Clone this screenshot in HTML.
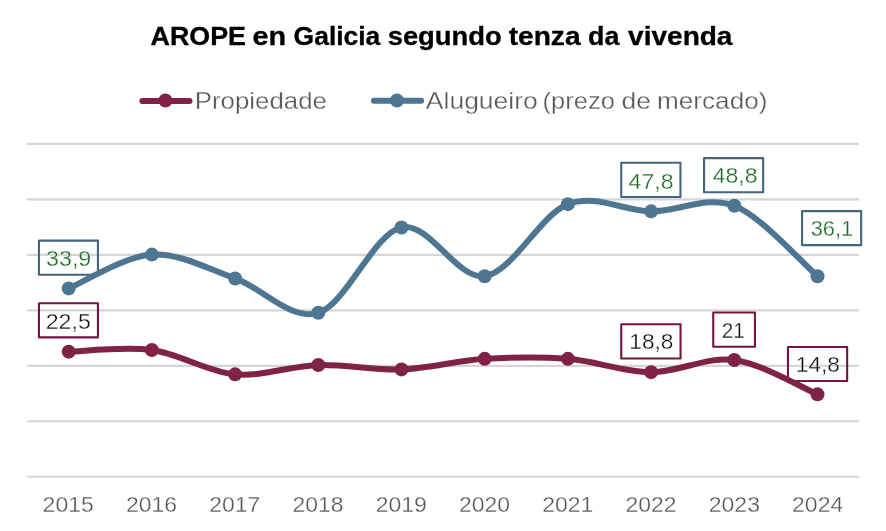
<!DOCTYPE html>
<html><head><meta charset="utf-8"><style>
html,body{margin:0;padding:0;background:#fff;}
body{width:886px;height:531px;overflow:hidden;}
svg{display:block;font-family:"Liberation Sans",sans-serif;will-change:transform;}
</style></head><body>
<svg width="886" height="531" viewBox="0 0 886 531">
<rect width="886" height="531" fill="#fff"/>
<line x1="27" y1="476.75" x2="859" y2="476.75" stroke="#d6d6d6" stroke-width="2.2"/>
<line x1="27" y1="421.27" x2="859" y2="421.27" stroke="#d6d6d6" stroke-width="2.2"/>
<line x1="27" y1="365.80" x2="859" y2="365.80" stroke="#d6d6d6" stroke-width="2.2"/>
<line x1="27" y1="310.32" x2="859" y2="310.32" stroke="#d6d6d6" stroke-width="2.2"/>
<line x1="27" y1="254.85" x2="859" y2="254.85" stroke="#d6d6d6" stroke-width="2.2"/>
<line x1="27" y1="199.38" x2="859" y2="199.38" stroke="#d6d6d6" stroke-width="2.2"/>
<line x1="27" y1="143.90" x2="859" y2="143.90" stroke="#d6d6d6" stroke-width="2.2"/>
<rect x="787.95" y="346.95" width="59.20" height="34.10" fill="none" stroke="#75153f" stroke-width="2.1" stroke-linejoin="round"/>
<rect x="713.25" y="312.55" width="41.70" height="34.20" fill="none" stroke="#75153f" stroke-width="2.1" stroke-linejoin="round"/>
<rect x="621.25" y="324.25" width="59.30" height="34.30" fill="none" stroke="#75153f" stroke-width="2.1" stroke-linejoin="round"/>
<rect x="38.95" y="303.25" width="59.00" height="34.10" fill="none" stroke="#75153f" stroke-width="2.1" stroke-linejoin="round"/>
<rect x="802.05" y="211.15" width="59.10" height="34.00" fill="none" stroke="#42667f" stroke-width="2.1" stroke-linejoin="round"/>
<rect x="704.05" y="158.15" width="59.10" height="34.10" fill="none" stroke="#42667f" stroke-width="2.1" stroke-linejoin="round"/>
<rect x="621.25" y="162.75" width="59.20" height="34.20" fill="none" stroke="#42667f" stroke-width="2.1" stroke-linejoin="round"/>
<rect x="38.95" y="240.65" width="59.00" height="34.10" fill="none" stroke="#42667f" stroke-width="2.1" stroke-linejoin="round"/>
<path d="M68.70,288.42 C82.57,282.79 124.17,256.26 151.90,254.60 C179.63,252.94 207.37,268.74 235.10,278.44 C262.83,288.15 290.57,321.32 318.30,312.82 C346.03,304.32 373.77,233.53 401.50,227.43 C429.23,221.33 456.97,280.11 484.70,276.23 C512.43,272.34 540.17,214.95 567.90,204.14 C595.63,193.33 623.37,211.07 651.10,211.35 C678.83,211.63 706.57,194.99 734.30,205.80 C762.03,216.62 803.63,264.49 817.50,276.23" fill="none" stroke="#4e7591" stroke-width="6" stroke-linecap="round" stroke-linejoin="round"/>
<circle cx="68.70" cy="288.42" r="7.0" fill="#4e7591"/>
<circle cx="151.90" cy="254.60" r="7.0" fill="#4e7591"/>
<circle cx="235.10" cy="278.44" r="7.0" fill="#4e7591"/>
<circle cx="318.30" cy="312.82" r="7.0" fill="#4e7591"/>
<circle cx="401.50" cy="227.43" r="7.0" fill="#4e7591"/>
<circle cx="484.70" cy="276.23" r="7.0" fill="#4e7591"/>
<circle cx="567.90" cy="204.14" r="7.0" fill="#4e7591"/>
<circle cx="651.10" cy="211.35" r="7.0" fill="#4e7591"/>
<circle cx="734.30" cy="205.80" r="7.0" fill="#4e7591"/>
<circle cx="817.50" cy="276.23" r="7.0" fill="#4e7591"/>
<path d="M68.70,351.64 C82.57,351.36 124.17,346.18 151.90,349.97 C179.63,353.76 207.37,371.88 235.10,374.37 C262.83,376.87 290.57,365.78 318.30,364.95 C346.03,364.11 373.77,370.40 401.50,369.38 C429.23,368.36 456.97,360.60 484.70,358.85 C512.43,357.09 540.17,356.63 567.90,358.85 C595.63,361.06 623.37,371.97 651.10,372.15 C678.83,372.34 706.57,356.26 734.30,359.95 C762.03,363.65 803.63,388.60 817.50,394.33" fill="none" stroke="#7f2246" stroke-width="6" stroke-linecap="round" stroke-linejoin="round"/>
<circle cx="68.70" cy="351.64" r="7.0" fill="#7f2246"/>
<circle cx="151.90" cy="349.97" r="7.0" fill="#7f2246"/>
<circle cx="235.10" cy="374.37" r="7.0" fill="#7f2246"/>
<circle cx="318.30" cy="364.95" r="7.0" fill="#7f2246"/>
<circle cx="401.50" cy="369.38" r="7.0" fill="#7f2246"/>
<circle cx="484.70" cy="358.85" r="7.0" fill="#7f2246"/>
<circle cx="567.90" cy="358.85" r="7.0" fill="#7f2246"/>
<circle cx="651.10" cy="372.15" r="7.0" fill="#7f2246"/>
<circle cx="734.30" cy="359.95" r="7.0" fill="#7f2246"/>
<circle cx="817.50" cy="394.33" r="7.0" fill="#7f2246"/>
<text transform="translate(46.01,265.80) scale(1.0435,1)" font-size="22.3" fill="#1c6a26" stroke="#fff" stroke-width="0.3">33,9</text>
<text transform="translate(628.57,188.60) scale(1.0353,1)" font-size="22.3" fill="#1c6a26" stroke="#fff" stroke-width="0.3">47,8</text>
<text transform="translate(712.67,183.00) scale(1.0329,1)" font-size="22.3" fill="#1c6a26" stroke="#fff" stroke-width="0.3">48,8</text>
<text transform="translate(810.67,236.40) scale(0.9816,1)" font-size="22.3" fill="#1c6a26" stroke="#fff" stroke-width="0.3">36,1</text>
<text transform="translate(45.74,329.40) scale(1.0376,1)" font-size="22.3" fill="#111111" stroke="#fff" stroke-width="0.3">22,5</text>
<text transform="translate(629.27,349.10) scale(1.0188,1)" font-size="22.3" fill="#111111" stroke="#fff" stroke-width="0.3">18,8</text>
<text transform="translate(721.66,337.50) scale(0.9250,1)" font-size="22.3" fill="#111111" stroke="#fff" stroke-width="0.3">21</text>
<text transform="translate(795.87,371.60) scale(1.0163,1)" font-size="22.3" fill="#111111" stroke="#fff" stroke-width="0.3">14,8</text>
<text transform="translate(68.20,511.7) scale(1.045,1)" text-anchor="middle" font-size="22" fill="#565656" stroke="#fff" stroke-width="0.3">2015</text>
<text transform="translate(151.47,511.7) scale(1.045,1)" text-anchor="middle" font-size="22" fill="#565656" stroke="#fff" stroke-width="0.3">2016</text>
<text transform="translate(234.74,511.7) scale(1.045,1)" text-anchor="middle" font-size="22" fill="#565656" stroke="#fff" stroke-width="0.3">2017</text>
<text transform="translate(318.01,511.7) scale(1.045,1)" text-anchor="middle" font-size="22" fill="#565656" stroke="#fff" stroke-width="0.3">2018</text>
<text transform="translate(401.28,511.7) scale(1.045,1)" text-anchor="middle" font-size="22" fill="#565656" stroke="#fff" stroke-width="0.3">2019</text>
<text transform="translate(484.55,511.7) scale(1.045,1)" text-anchor="middle" font-size="22" fill="#565656" stroke="#fff" stroke-width="0.3">2020</text>
<text transform="translate(567.82,511.7) scale(1.045,1)" text-anchor="middle" font-size="22" fill="#565656" stroke="#fff" stroke-width="0.3">2021</text>
<text transform="translate(651.09,511.7) scale(1.045,1)" text-anchor="middle" font-size="22" fill="#565656" stroke="#fff" stroke-width="0.3">2022</text>
<text transform="translate(734.36,511.7) scale(1.045,1)" text-anchor="middle" font-size="22" fill="#565656" stroke="#fff" stroke-width="0.3">2023</text>
<text transform="translate(817.63,511.7) scale(1.045,1)" text-anchor="middle" font-size="22" fill="#565656" stroke="#fff" stroke-width="0.3">2024</text>
<line x1="142.4" y1="100.9" x2="189.5" y2="100.9" stroke="#7f2246" stroke-width="6" stroke-linecap="round"/>
<circle cx="165.4" cy="100.5" r="7.0" fill="#7f2246"/>
<line x1="373.9" y1="100.7" x2="421.1" y2="100.7" stroke="#4e7591" stroke-width="6" stroke-linecap="round"/>
<circle cx="397" cy="100.5" r="7.0" fill="#4e7591"/>
<text transform="translate(194.68,108.50) scale(1.1251,1)" font-size="23" fill="#575757" stroke="#fff" stroke-width="0.3">Propiedade</text>
<text transform="translate(425.85,108.50) scale(1.1522,1)" font-size="23" fill="#575757" stroke="#fff" stroke-width="0.3">Alugueiro</text>
<text transform="translate(542.62,108.50) scale(1.1083,1)" font-size="23" fill="#575757" stroke="#fff" stroke-width="0.3">(prezo</text>
<text transform="translate(621.49,108.50) scale(1.1485,1)" font-size="23" fill="#575757" stroke="#fff" stroke-width="0.3">de</text>
<text transform="translate(657.06,108.50) scale(1.1360,1)" font-size="23" fill="#575757" stroke="#fff" stroke-width="0.3">mercado)</text>
<text transform="translate(150.53,44.90) scale(1.0744,1)" font-size="25" font-weight="bold" fill="#000" stroke="#000" stroke-width="0.3">AROPE</text>
<text transform="translate(252.57,44.90) scale(1.1521,1)" font-size="25" font-weight="bold" fill="#000" stroke="#000" stroke-width="0.3">en</text>
<text transform="translate(293.62,44.90) scale(1.0576,1)" font-size="25" font-weight="bold" fill="#000" stroke="#000" stroke-width="0.3">Galicia</text>
<text transform="translate(387.64,44.90) scale(1.0967,1)" font-size="25" font-weight="bold" fill="#000" stroke="#000" stroke-width="0.3">segundo</text>
<text transform="translate(508.66,44.90) scale(1.1261,1)" font-size="25" font-weight="bold" fill="#000" stroke="#000" stroke-width="0.3">tenza</text>
<text transform="translate(588.10,44.90) scale(1.0739,1)" font-size="25" font-weight="bold" fill="#000" stroke="#000" stroke-width="0.3">da</text>
<text transform="translate(628.09,44.90) scale(1.1217,1)" font-size="25" font-weight="bold" fill="#000" stroke="#000" stroke-width="0.3">vivenda</text>
</svg>
</body></html>
